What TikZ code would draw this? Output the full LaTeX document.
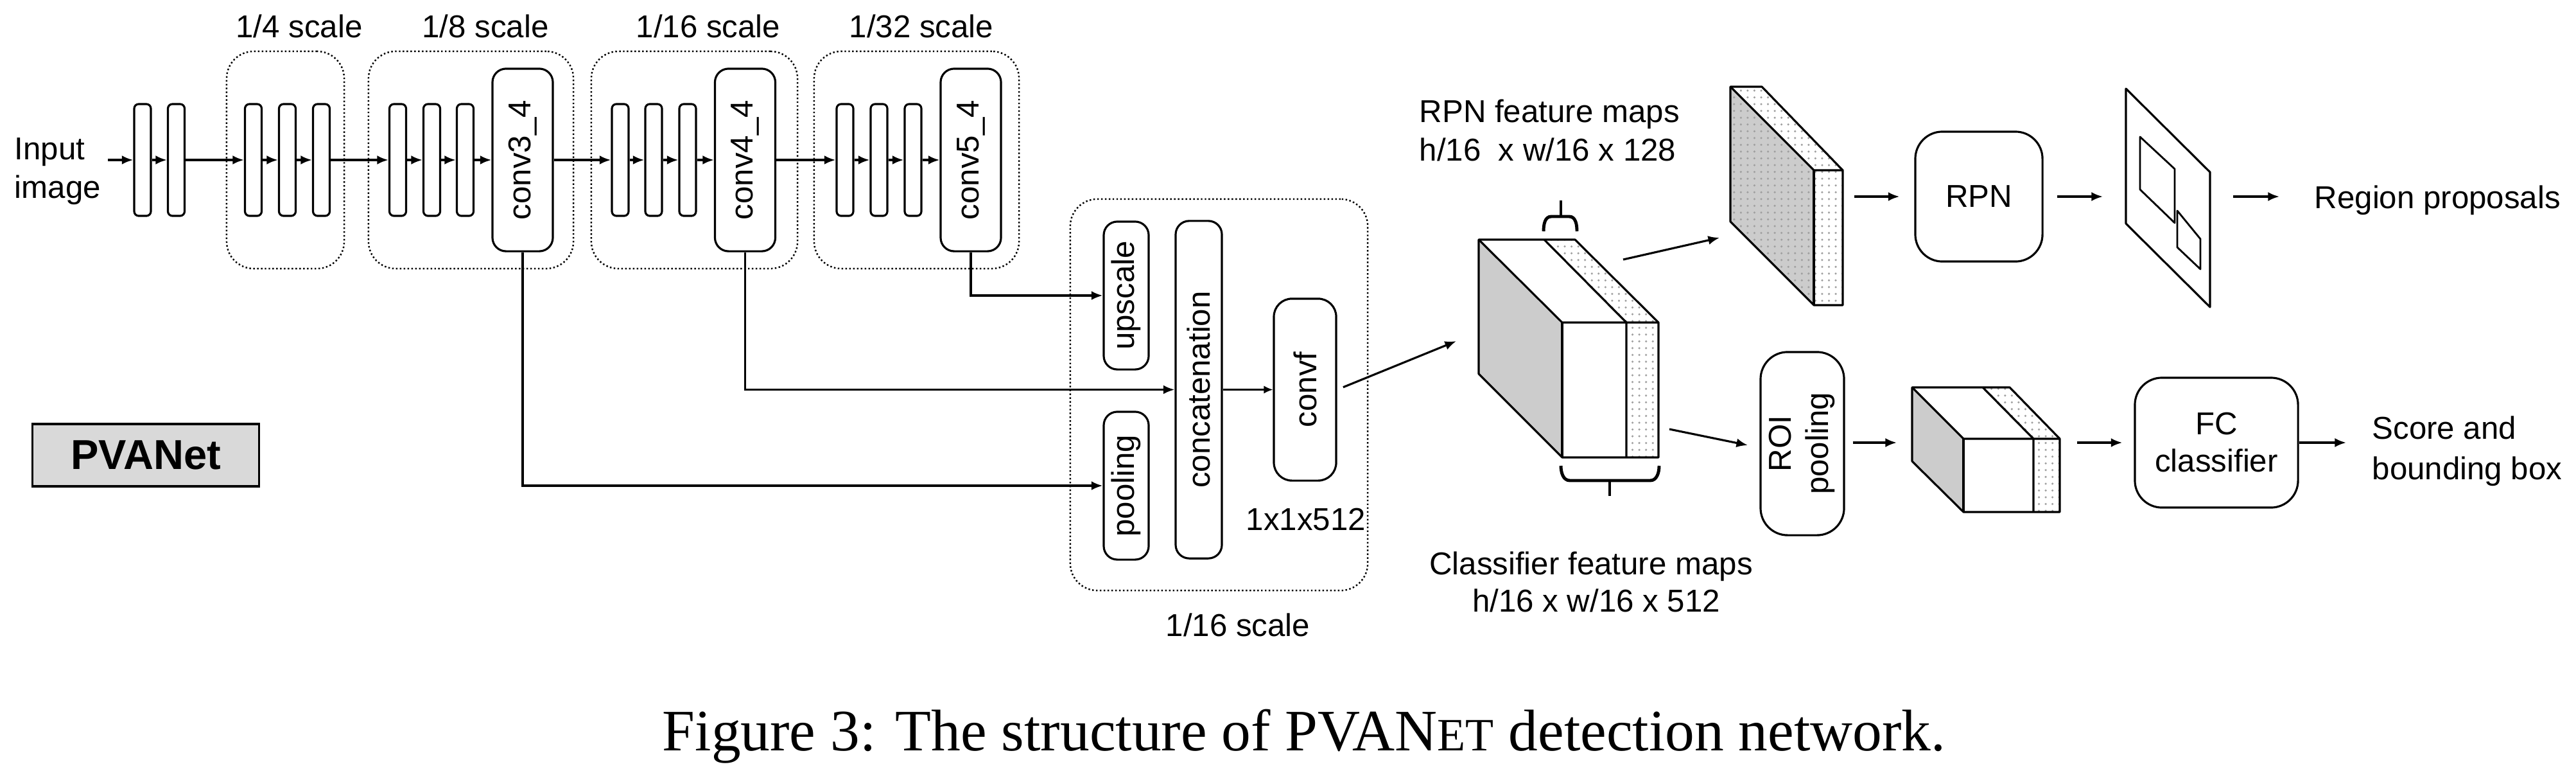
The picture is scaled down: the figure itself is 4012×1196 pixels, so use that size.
\documentclass[tikz,border=0pt]{standalone}
\usepackage{fontspec}
\setmainfont{Liberation Serif}
\setsansfont{Liberation Sans}
\usepackage{graphicx}
\usetikzlibrary{arrows.meta,patterns}
\begin{document}
\begin{tikzpicture}[x=0.01cm,y=-0.01cm,
  every node/.style={font=\sffamily\fontsize{14}{16.5}\selectfont, inner sep=0pt},
  blk/.style={draw, line width=0.9pt},
  barbox/.style={blk, rounded corners=2pt, minimum width=0.26cm, minimum height=1.74cm},
  convbox/.style={blk, rounded corners=6pt, minimum width=0.94cm, minimum height=2.84cm},
  grp/.style={draw, densely dotted, line width=0.7pt, rounded corners=12pt},
  rbox/.style={blk, rounded corners=12pt},
  arr/.style={line width=0.9pt, -{Latex[length=5pt,width=4pt]}},
  ln/.style={line width=0.9pt},
  facebox/.style={draw, line width=0.9pt, line join=round},
  dotsf/.style={pattern=dots, pattern color=gray!75},
  brc/.style={line width=1.4pt},
]
\path[use as bounding box] (0,0) rectangle (4012,1196);

% scale groups
\node[grp, minimum width=1.83cm, minimum height=3.38cm] (g4) at (444.5,249) {};
\node[grp, minimum width=3.19cm, minimum height=3.38cm] (g8) at (733.5,249) {};
\node[grp, minimum width=3.21cm, minimum height=3.38cm] (g16) at (1081.5,249) {};
\node[grp, minimum width=3.19cm, minimum height=3.38cm] (g32) at (1427.5,249) {};
\node[anchor=base] (l4) at (466,58) {1/4 scale};
\node[anchor=base] (l8) at (756,58) {1/8 scale};
\node[anchor=base] (l16) at (1103,58) {1/16 scale};
\node[anchor=base] (l32) at (1435,58) {1/32 scale};

% input
\node[anchor=base west] (in1) at (22,248) {Input};
\node[anchor=base west] (in2) at (22,308) {image};
\coordinate (inA) at (168,249);

% bars
\node[barbox] (b1) at (222,249) {};
\node[barbox] (b2) at (274.5,249) {};
\node[barbox] (b3) at (394.5,249) {};
\node[barbox] (b4) at (447.5,249) {};
\node[barbox] (b5) at (500.5,249) {};
\node[barbox] (b6) at (619.5,249) {};
\node[barbox] (b7) at (672.5,249) {};
\node[barbox] (b8) at (724.5,249) {};
\node[convbox] (c3) at (814,249) {\rotatebox{90}{conv3\_4}};
\node[barbox] (b9) at (966,249) {};
\node[barbox] (b10) at (1018,249) {};
\node[barbox] (b11) at (1071,249) {};
\node[convbox] (c4) at (1160.5,249) {\rotatebox{90}{conv4\_4}};
\node[barbox] (b12) at (1316,249) {};
\node[barbox] (b13) at (1369,249) {};
\node[barbox] (b14) at (1422,249) {};
\node[convbox] (c5) at (1512,249) {\rotatebox{90}{conv5\_4}};

\draw[arr] (inA) -- (b1.west);
\foreach \a/\b in {b1/b2,b2/b3,b3/b4,b4/b5,b5/b6,b6/b7,b7/b8,b8/c3,c3/b9,b9/b10,b10/b11,b11/c4,c4/b12,b12/b13,b13/b14,b14/c5}
  \draw[arr] (\a.east) -- (\b.west);

% fusion group
\node[grp, minimum width=4.63cm, minimum height=6.09cm] (gf) at (1898.5,614.5) {};
\node[blk, rounded corners=6pt, minimum width=0.70cm, minimum height=2.30cm] (up) at (1754,460) {\rotatebox{90}{upscale}};
\node[blk, rounded corners=6pt, minimum width=0.70cm, minimum height=2.30cm] (pool) at (1754,756) {\rotatebox{90}{pooling}};
\node[blk, rounded corners=6pt, minimum width=0.72cm, minimum height=5.25cm] (cat) at (1867,606.5) {\rotatebox{90}{concatenation}};
\node[blk, rounded corners=8pt, minimum width=0.97cm, minimum height=2.83cm] (convf) at (2032.5,606.5) {\rotatebox{90}{convf}};
\node[anchor=base] (dim) at (2034,825) {1x1x512};
\node[anchor=base] (l16b) at (1928,990) {1/16 scale};

\draw[arr] (c5.south) |- (up.west);
\draw[arr] (c4.south) |- (cat.west);
\draw[arr] (c3.south) |- (pool.west);
\draw[line width=0.6pt, -{Latex[length=4pt,width=3.5pt]}] (cat.east) -- (convf.west);

% PVANet label
\node[draw, fill=gray!30, line width=0.9pt, minimum width=3.52cm, minimum height=0.97cm,
      font=\sffamily\bfseries\fontsize{18.5}{20}\selectfont] (pva) at (227,708.5) {PVANet};

% big feature block
\fill[gray!40] (2303,373) -- (2433,502) -- (2433,712) -- (2303,582) -- cycle;
\fill[white] (2405,373) -- (2453,373) -- (2583,502) -- (2533,502) -- cycle;
\fill[dotsf] (2405,373) -- (2453,373) -- (2583,502) -- (2533,502) -- cycle;
\fill[white] (2533,502) rectangle (2583,712);
\fill[dotsf] (2533,502) rectangle (2583,712);
\draw[facebox] (2303,373) -- (2453,373) -- (2583,502) -- (2583,712) -- (2433,712) -- (2303,582) -- cycle;
\draw[facebox] (2303,373) -- (2433,502) -- (2583,502);
\draw[facebox] (2433,502) -- (2433,712);
\draw[facebox] (2405,373) -- (2533,502) -- (2533,712);
% braces
\draw[brc] (2404,360) to[out=90,in=180] (2416,337) -- (2444,337) to[out=0,in=90] (2456,360);
\draw[brc] (2431,337) -- (2431,312);
\draw[brc] (2431,725) to[out=-90,in=180] (2445,748) -- (2570,748) to[out=0,in=-90] (2584,725);
\draw[brc] (2507,748) -- (2507,772);

\coordinate (blkin) at (2268,531);
\draw[arr, shorten <=0.1cm] (convf.east) -- (blkin);

% labels of feature maps
\node[anchor=base west] (rpnl1) at (2210,190) {RPN feature maps};
\node[anchor=base west] (rpnl2) at (2210,250) {h/16\ \ x w/16 x 128};
\node[anchor=base] (cl1) at (2478,894) {Classifier feature maps};
\node[anchor=base] (cl2) at (2486,952) {h/16 x w/16 x 512};

% RPN slab
\fill[gray!40] (2695,135) -- (2825,265) -- (2825,475) -- (2695,345) -- cycle;
\fill[dotsf] (2695,135) -- (2825,265) -- (2825,475) -- (2695,345) -- cycle;
\fill[white] (2695,135) -- (2744,135) -- (2870,265) -- (2870,475) -- (2825,475) -- (2825,265) -- cycle;
\fill[dotsf] (2695,135) -- (2744,135) -- (2870,265) -- (2870,475) -- (2825,475) -- (2825,265) -- cycle;
\draw[facebox] (2695,135) -- (2744,135) -- (2870,265) -- (2870,475) -- (2825,475) -- (2695,345) -- cycle;
\draw[facebox] (2695,135) -- (2825,265) -- (2870,265);
\draw[facebox] (2825,265) -- (2825,475);

\coordinate (bo1) at (2528,404);
\coordinate (bo1e) at (2678,370);
\draw[arr] (bo1) -- (bo1e);

% RPN branch
\coordinate (slabout) at (2888,306);
\node[rbox, minimum width=1.98cm, minimum height=2.02cm] (rpn) at (3082,306) {RPN};
\coordinate (imgin) at (3275,306);
\coordinate (imgout) at (3478,306);
\coordinate (rpend) at (3550,306);
\draw[arr, shorten >=0.23cm] (slabout) -- (rpn.west);
\draw[arr, shorten <=0.21cm] (rpn.east) -- (imgin);
\draw[arr] (imgout) -- (rpend);
\draw[facebox] (3311,138) -- (3442,268) -- (3442,478) -- (3311,348) -- cycle;
\draw[facebox, line width=0.8pt] (3333,213) -- (3387,263) -- (3387,347) -- (3333,295) -- cycle;
\draw[facebox, line width=0.8pt] (3391,328) -- (3427,372) -- (3427,419) -- (3391,385) -- cycle;
\node[anchor=base west] (rp) at (3604,324) {Region proposals};

% classifier branch
\node[rbox, minimum width=1.30cm, minimum height=2.85cm] (roi) at (2807,690.5)
  {\rotatebox{90}{\begin{tabular}{@{}c@{}}ROI\\pooling\end{tabular}}};
\coordinate (bo2) at (2600,668);
\coordinate (roiin) at (2722,693);
\draw[arr] (bo2) -- (roiin);
\coordinate (sbin) at (2954,689);
\draw[arr, shorten <=0.12cm] (roi.east |- sbin) -- (sbin);

% small block
\fill[gray!40] (2978,603) -- (3058,683) -- (3058,797) -- (2978,718) -- cycle;
\fill[white] (3088,603) -- (3130,603) -- (3208,683) -- (3167,683) -- cycle;
\fill[dotsf] (3088,603) -- (3130,603) -- (3208,683) -- (3167,683) -- cycle;
\fill[white] (3167,683) rectangle (3208,797);
\fill[dotsf] (3167,683) rectangle (3208,797);
\draw[facebox] (2978,603) -- (3130,603) -- (3208,683) -- (3208,797) -- (3058,797) -- (2978,718) -- cycle;
\draw[facebox] (2978,603) -- (3058,683) -- (3208,683);
\draw[facebox] (3058,683) -- (3058,797);
\draw[facebox] (3088,603) -- (3167,683) -- (3167,797);

\coordinate (sbout) at (3235,689);
\node[rbox, minimum width=2.54cm, minimum height=2.02cm, align=center] (fc) at (3452,689) {FC\\classifier};
\draw[arr, shorten >=0.18cm] (sbout) -- (fc.west);
\coordinate (scin) at (3654,689);
\draw[arr] (fc.east) -- (scin);
\node[anchor=base west] (sc1) at (3694,683) {Score and};
\node[anchor=base west] (sc2) at (3694,746) {bounding box};

% caption
\node[anchor=base, font=\rmfamily\fontsize{26}{30}\selectfont] (cap) at (2031,1168)
  {Figure 3: The structure of PVAN{\fontsize{20.5}{24}\selectfont ET} detection network.};
\end{tikzpicture}
\end{document}
